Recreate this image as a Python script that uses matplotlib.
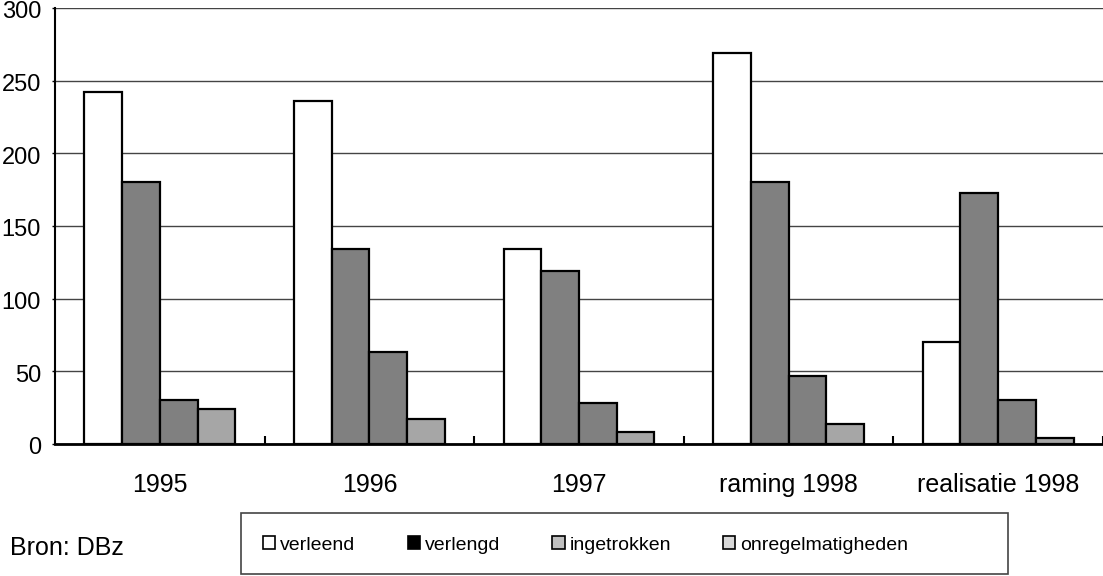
import matplotlib
matplotlib.use("Agg")
import matplotlib.pyplot as plt
from matplotlib.patches import Patch, Rectangle
from matplotlib.transforms import ScaledTranslation
import numpy as np

plt.rcParams['font.family'] = ['Liberation Sans', 'DejaVu Sans']

categories = ["1995", "1996", "1997", "raming 1998", "realisatie 1998"]
verleend = [242, 236, 134, 269, 70]
bar2 = [180, 134, 119, 180, 173]
bar3 = [30, 63, 28, 47, 30]
onregelmatigheden = [24, 17, 8, 14, 4]
series = [verleend, bar2, bar3, onregelmatigheden]
bar_colors = ["#ffffff", "#808080", "#808080", "#a6a6a6"]

legend_labels = ["verleend", "verlengd", "ingetrokken", "onregelmatigheden"]
legend_colors = ["#ffffff", "#000000", "#c0c0c0", "#d8d8d8"]
yticks = [0, 50, 100, 150, 200, 250, 300]

fig = plt.figure(figsize=(11.03, 5.76), dpi=100)
ax = fig.add_axes([55/1103, 1 - 444/576, (1103 - 55)/1103, 436/576])

x = np.arange(len(categories))
w = 0.18
for i, (vals, c) in enumerate(zip(series, bar_colors)):
    ax.bar(x + (i - 1.5) * w, vals, w, color=c, edgecolor="black", linewidth=1.6, zorder=3)

ax.set_xlim(-0.5, len(categories) - 0.5)
ax.set_ylim(0, 300)
ax.set_yticks(yticks)
ax.set_yticklabels([str(t) for t in yticks], fontsize=17)
ax.yaxis.grid(True, color="#444444", linewidth=1.0, zorder=0)
ax.tick_params(axis="y", length=2, width=1, pad=8)
offset = ScaledTranslation(0, -2/100, fig.dpi_scale_trans)
for lbl in ax.get_yticklabels():
    lbl.set_transform(lbl.get_transform() + offset)

ax.set_xticks(x)
ax.set_xticklabels(categories, fontsize=18)
ax.tick_params(axis="x", length=0, pad=21)
ax.set_xticks(np.arange(len(categories)) + 0.5, minor=True)
ax.tick_params(axis="x", which="minor", direction="in", length=6, width=1.5)

ax.spines["top"].set_visible(False)
ax.spines["right"].set_visible(False)
ax.spines["left"].set_linewidth(1.5)
ax.spines["bottom"].set_linewidth(2)

# legend frame
fig.patches.append(Rectangle((241/1103, 1 - 574/576), (1008 - 241)/1103, 61/576,
                             transform=fig.transFigure, facecolor="white",
                             edgecolor="#444444", linewidth=1.2, zorder=0))

handles = [Patch(facecolor=c, edgecolor="black", linewidth=1.2) for c in legend_colors]
leg = fig.legend(handles, legend_labels, loc="center left", ncol=4,
                 bbox_to_anchor=(263/1103, 1 - 545/576),
                 fontsize=14, frameon=False,
                 handlelength=0.62, handleheight=0.62, handletextpad=0.25,
                 columnspacing=2.7, borderaxespad=0, borderpad=0)

fig.text(10/1103, 1 - 548/576, "Bron: DBz", fontsize=18, va="center", ha="left")

fig.savefig("out.png", dpi=100)
